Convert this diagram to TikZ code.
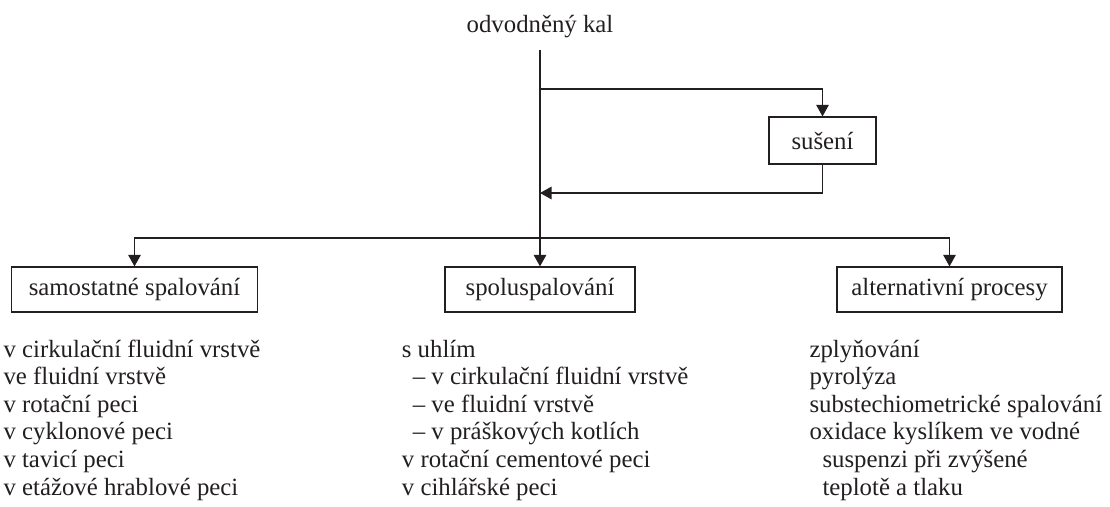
\documentclass[tikz,border=0pt]{standalone}
\usepackage{fontspec}
\setmainfont{Liberation Serif}
\usetikzlibrary{arrows.meta}
\definecolor{ink}{RGB}{35,31,32}

\begin{document}
\begin{tikzpicture}[x=1pt,y=-1pt,
		box/.style={draw=ink, line width=1.2pt, inner sep=0pt, minimum height=45pt, text=ink, font=\fontsize{24.8}{27.6}\selectfont},
		item/.style={anchor=base west, inner sep=0pt, text=ink, font=\fontsize{24.8}{27.6}\selectfont},
		flow/.style={draw=ink, line width=1.2pt, -{Triangle[length=11.5pt,width=12.5pt]}}]
	\useasboundingbox (0,0) rectangle (1110,506);

	\node[item, anchor=base] (kal) at (540,32) {odvodněný kal};
	\node[box, minimum width=107pt, minimum height=47pt] (dry) at (822.5,140.5) {sušení};
	\node[box, minimum width=245.6pt] (sam) at (134.5,289.5) {samostatné spalování};
	\node[box, minimum width=190pt] (spol) at (540,289.5) {spoluspalování};
	\node[box, minimum width=225pt] (alt) at (949.5,289.5) {alternativní procesy};

	% spine and drying loop
	\coordinate (dryout) at (540,89);
	\coordinate (dryin) at (540,193);
	\coordinate (split) at (540,238);
	\draw[flow] ([yshift=-18pt]kal.base) -- (spol.north);
	\draw[flow] (dryout) -| (dry.north);
	\draw[flow] (dry.south) |- (dryin);
	\draw[flow] (split) -| (sam.north);
	\draw[flow] (split) -| (alt.north);

	% lists under the boxes
	\foreach \t [count=\i] in {v cirkulační fluidní vrstvě, ve fluidní vrstvě, v rotační peci,
			v cyklonové peci, v tavicí peci, v etážové hrablové peci}{
		\node[item] (sam\i) at (3.3,{357+27.6*(\i-1)}) {\t};
	}
	\foreach \t [count=\i] in {s uhlím, \hspace*{11pt}– v cirkulační fluidní vrstvě,
			\hspace*{11pt}– ve fluidní vrstvě, \hspace*{11pt}– v práškových kotlích,
			v rotační cementové peci, v cihlářské peci}{
		\node[item] (spol\i) at (401.7,{357+27.6*(\i-1)}) {\t};
	}
	\foreach \t [count=\i] in {zplyňování, pyrolýza, substechiometrické spalování,
			oxidace kyslíkem ve vodné, \hspace*{13pt}suspenzi při zvýšené,
			\hspace*{13pt}teplotě a tlaku}{
		\node[item] (alt\i) at (809.3,{357+27.6*(\i-1)}) {\t};
	}
\end{tikzpicture}
\end{document}
